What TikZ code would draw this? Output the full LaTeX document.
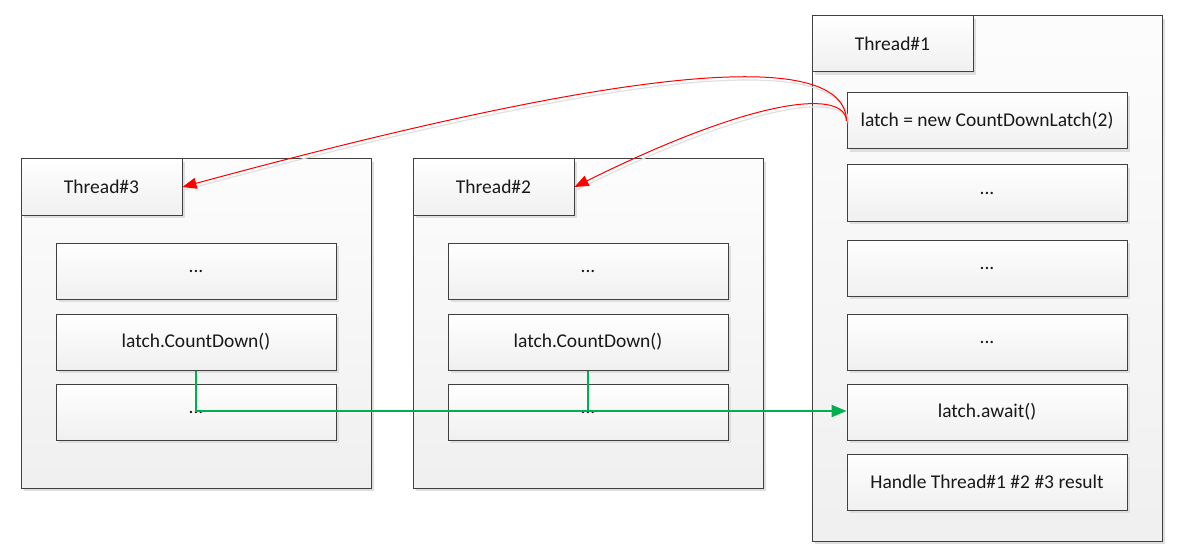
\documentclass[tikz,border=0pt]{standalone}
\usepackage{fontspec}
\setmainfont{Carlito}
\usetikzlibrary{shadows,arrows.meta}
\definecolor{edge}{HTML}{404040}
\definecolor{grn}{HTML}{00B050}
\tikzset{
  box/.style={draw=edge, line width=1pt, top color=white, bottom color=black!6,
    drop shadow={shadow xshift=3pt, shadow yshift=-3pt, fill=black!13, opacity=1},
    inner sep=0pt, font=\fontsize{19.5}{22}\selectfont, text=black!90},
  outerbox/.style={box, minimum width=350pt, top color=white!99!black, bottom color=black!6},
  headbox/.style={box, minimum width=161pt, minimum height=56pt},
  stepbox/.style={box, minimum width=280pt, minimum height=56pt},
  redarrow/.style={draw=red, line width=1pt, -{Triangle[length=14pt,width=11pt]}},
  redshadow/.style={draw=black!12, line width=1.2pt, transform canvas={xshift=2pt,yshift=-3pt}},
  greenline/.style={draw=grn, line width=2.2pt},
}
\begin{document}
\begin{tikzpicture}[x=1pt,y=-1pt]
\useasboundingbox[fill=white] (0,0) rectangle (1181,559);
% Thread#1
\node[outerbox, minimum height=525pt] (t1) at (987,278.5) {};
\node[headbox] (t1h) at (892.5,44) {Thread\#1};
\node[stepbox] (latch) at (987,121) {latch = new CountDownLatch(2)};
\node[stepbox] (t1a) at (987,193) {...};
\node[stepbox] (t1b) at (987,268) {...};
\node[stepbox] (t1c) at (987,342) {...};
\node[stepbox] (await) at (987,412) {latch.await()};
\node[stepbox] (handle) at (987,482) {Handle Thread\#1 \#2 \#3 result};
% Thread#3
\node[outerbox, minimum height=329pt] (t3) at (196,323.5) {};
\node[headbox] (t3h) at (101.5,187) {Thread\#3};
\node[stepbox] (t3a) at (196,271) {...};
\node[stepbox] (t3b) at (196,342) {latch.CountDown()};
\node[stepbox] (t3c) at (196,412) {\raisebox{-3pt}{...}};
% Thread#2
\node[outerbox, minimum height=329pt] (t2) at (588,323.5) {};
\node[headbox] (t2h) at (493.5,187) {Thread\#2};
\node[stepbox] (t2a) at (588,271) {...};
\node[stepbox] (t2b) at (588,342) {latch.CountDown()};
\node[stepbox] (t2c) at (588,412) {\raisebox{-3pt}{...}};
\coordinate (join) at ([yshift=1pt]await.west);
% red connectors
\draw[redshadow] (latch.west) .. controls (845,50) and (650,60) .. (t3h.east);
\draw[redshadow] (latch.west) .. controls (845,90) and (760,95) .. (t2h.east);
\draw[redarrow] (latch.west) .. controls (845,50) and (650,60) .. (t3h.east);
\draw[redarrow] (latch.west) .. controls (845,90) and (760,95) .. (t2h.east);
% green connectors
\draw[greenline] (t2b.south) -- (t2b.south |- join);
\draw[greenline, -{Triangle[length=15pt,width=12pt]}] (t3b.south) |- (join);
\end{tikzpicture}
\end{document}
